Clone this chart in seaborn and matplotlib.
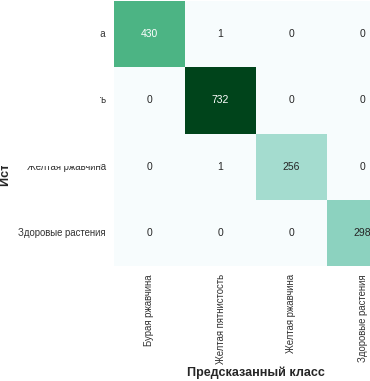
import numpy as np
import pandas as pd
import seaborn as sns
import matplotlib
matplotlib.use("Agg")
import matplotlib.pyplot as plt
from matplotlib.patches import Rectangle

classes = ["Бурая ржавчина", "Желтая пятнистость", "Желтая ржавчина", "Здоровые растения"]
row_bur = [430, 1, 0, 0]
row_pyat = [0, 732, 0, 0]
row_zhelt = [0, 1, 256, 0]
row_zdor = [0, 0, 0, 298]

cm = pd.DataFrame([row_bur, row_pyat, row_zhelt, row_zdor], index=classes, columns=classes)

sns.set_theme(style="white")
plt.rcParams['font.family'] = ['Liberation Sans', 'DejaVu Sans']

fig = plt.figure(figsize=(3.70, 3.81), dpi=100)
W, H = 370, 381
left, right, top, bottom = 114, 398, 1, 266
ax = fig.add_axes([left / W, (H - bottom) / H, (right - left) / W, (bottom - top) / H])

sns.heatmap(cm, annot=True, fmt="d", cmap="BuGn", cbar=False, ax=ax,
            annot_kws={"fontsize": 7.5})
for t in ax.texts:
    if t.get_text() == "430":
        t.set_color("white")

ax.set_xlabel("Предсказанный класс", fontsize=9, fontweight="bold")
ax.set_ylabel("Истинный класс", fontsize=9, fontweight="bold")
ax.xaxis.set_label_coords(0.5, -(373 - bottom) / (bottom - top), transform=ax.transAxes)
ax.yaxis.set_label_coords(-(114 - 6) / (right - left), 0.5 - 1 / (bottom - top), transform=ax.transAxes)
ax.xaxis.label.set_va("center")
ax.yaxis.label.set_va("center")
ax.tick_params(axis="both", length=0, labelsize=6.9, pad=6, labelcolor="#333333")
plt.setp(ax.get_xticklabels(), rotation=90)
plt.setp(ax.get_yticklabels(), rotation=0)

# mask reproducing the clipped top-left region of the reference
fig.patches.append(Rectangle((0, (H - 166) / H), 100 / W, 166 / H, transform=fig.transFigure,
                             facecolor="white", edgecolor="none", zorder=10))

fig.savefig("out.png", dpi=100)
